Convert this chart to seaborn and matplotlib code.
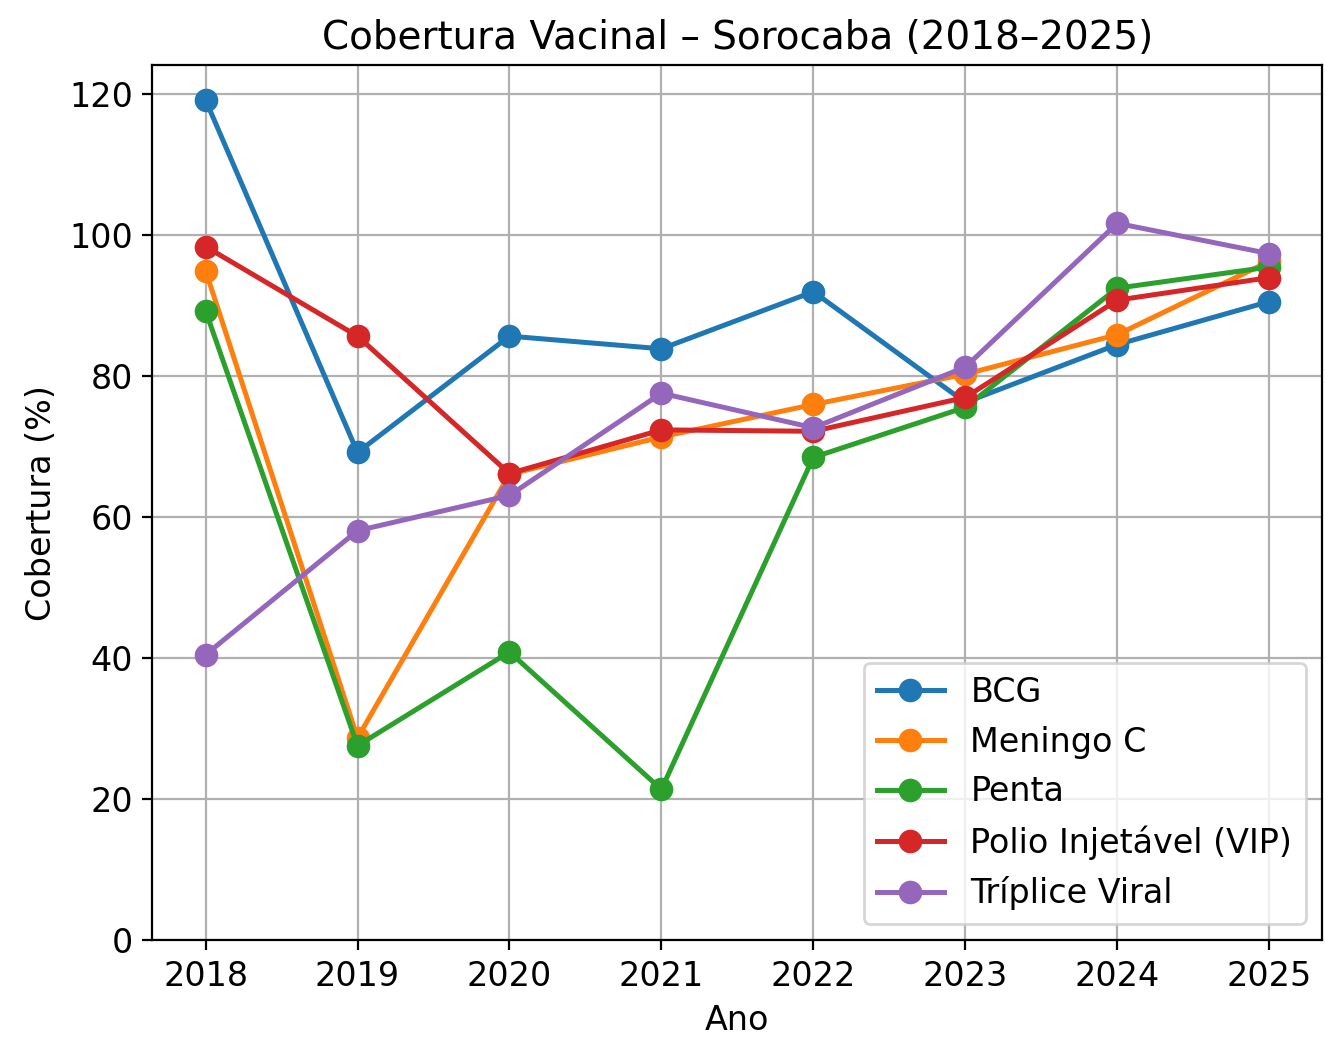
import numpy as np
import pandas as pd
import matplotlib
matplotlib.use("Agg")
import matplotlib.pyplot as plt
import seaborn as sns

anos = [2018, 2019, 2020, 2021, 2022, 2023, 2024, 2025]

bcg = [119.2, 69.2, 85.7, 83.9, 92.0, 76.3, 84.5, 90.6]
meningo_c = [95.0, 28.7, 66.1, 71.4, 76.0, 80.3, 85.9, 96.3]
penta = [89.3, 27.6, 40.9, 21.4, 68.5, 75.6, 92.5, 95.5]
polio_vip = [98.4, 85.7, 66.2, 72.4, 72.2, 77.0, 90.8, 94.0]
triplice_viral = [40.5, 58.1, 63.1, 77.6, 72.7, 81.3, 101.7, 97.4]

vacinas = ["BCG", "Meningo C", "Penta", "Polio Injetável (VIP)", "Tríplice Viral"]
series = [bcg, meningo_c, penta, polio_vip, triplice_viral]

df = pd.concat(
    [pd.DataFrame({"Ano": anos, "Cobertura": v, "Vacina": nome})
     for nome, v in zip(vacinas, series)],
    ignore_index=True,
)

fig, ax = plt.subplots(figsize=(6.625, 5.195), dpi=200)

cores = sns.color_palette("tab10", len(vacinas))
for nome, cor in zip(vacinas, cores):
    sub = df[df["Vacina"] == nome]
    sns.lineplot(data=sub, x="Ano", y="Cobertura", ax=ax, color=cor,
                 marker="o", markersize=8.5, markeredgewidth=0,
                 linewidth=1.8, label=nome)

ax.set_ylim(bottom=0)
ax.set_xticks(anos)
ax.grid(True)
ax.set_title("Cobertura Vacinal – Sorocaba (2018–2025)", fontsize=14)
ax.set_xlabel("Ano", fontsize=12)
ax.set_ylabel("Cobertura (%)", fontsize=12)
ax.tick_params(labelsize=12)
ax.legend(loc="lower right", fontsize=12)

plt.subplots_adjust(left=0.115, right=0.998, top=0.937, bottom=0.095)
plt.savefig("out.png", dpi=200)
